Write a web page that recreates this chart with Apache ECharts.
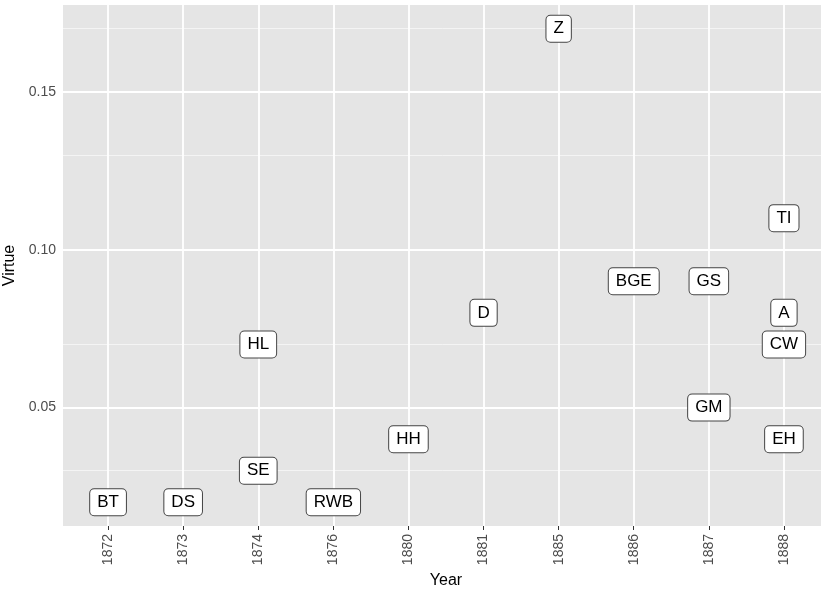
<!DOCTYPE html>
<html>
<head>
<meta charset="utf-8">
<script src="https://cdn.jsdelivr.net/npm/echarts@6/dist/echarts.min.js"></script>
<style>
  html, body { margin: 0; padding: 0; background: #fff; }
  #chart { width: 821px; height: 589px; }
</style>
</head>
<body>
<div id="chart"></div>
<script>
// discrete year categories on the x axis
var years = ['1872', '1873', '1874', '1876', '1880', '1881', '1885', '1886', '1887', '1888'];

// one label per book
var bookLabels = ['BT', 'DS', 'HL', 'SE', 'RWB', 'HH', 'D', 'Z', 'BGE', 'GS', 'GM', 'TI', 'A', 'CW', 'EH'];
var bookYears  = ['1872', '1873', '1874', '1874', '1876', '1880', '1881', '1885', '1886', '1887', '1887', '1888', '1888', '1888', '1888'];
var virtue     = [0.02, 0.02, 0.07, 0.03, 0.02, 0.04, 0.08, 0.17, 0.09, 0.09, 0.05, 0.11, 0.08, 0.07, 0.04];

// axis ticks
var yMajor = [0.05, 0.10, 0.15];
var yMinor = [0.025, 0.075, 0.125, 0.175];

var FONT = '"Liberation Sans", Arial, Helvetica, sans-serif';

var chart = echarts.init(document.getElementById('chart'));

var xIdx = years.map(function (y, i) { return i; });

var points = bookLabels.map(function (lab, i) {
	return { name: lab, value: [years.indexOf(bookYears[i]), virtue[i]] };
});

var gridLines = [];
yMinor.forEach(function (v) {
	gridLines.push({ yAxis: v, lineStyle: { color: '#f4f4f4', width: 1, type: 'solid' } });
});
yMajor.forEach(function (v) {
	gridLines.push({ yAxis: v, lineStyle: { color: '#ffffff', width: 1.8, type: 'solid' } });
});
xIdx.forEach(function (v) {
	gridLines.push({ xAxis: v, lineStyle: { color: '#ffffff', width: 1.8, type: 'solid' } });
});

chart.setOption({
	animation: false,
	textStyle: { fontFamily: FONT },
	grid: {
		left: 63,
		top: 5,
		width: 766,
		height: 521,
		containLabel: false,
		outerBoundsMode: 'none',
		show: true,
		backgroundColor: '#e5e5e5',
		borderWidth: 0
	},
	xAxis: {
		type: 'value',
		min: -0.6,
		max: 9.6,
		name: 'Year',
		nameLocation: 'middle',
		nameGap: 46,
		nameTextStyle: { fontSize: 16, color: '#000', fontFamily: FONT },
		axisLine: { show: false },
		splitLine: { show: false },
		axisTick: {
			show: true,
			customValues: xIdx,
			length: 4,
			lineStyle: { color: '#333', width: 1 }
		},
		axisLabel: {
			customValues: xIdx,
			rotate: 90,
			margin: 8,
			fontSize: 14,
			color: '#4d4d4d',
			fontFamily: FONT,
			formatter: function (v) { return years[Math.round(v)]; }
		}
	},
	yAxis: {
		type: 'value',
		min: 0.0125,
		max: 0.1775,
		name: 'Virtue',
		nameLocation: 'middle',
		nameGap: 41,
		nameTextStyle: { fontSize: 16, color: '#000', fontFamily: FONT },
		axisLine: { show: false },
		splitLine: { show: false },
		axisTick: {
			show: true,
			customValues: yMajor,
			length: 4,
			lineStyle: { color: '#333', width: 1 }
		},
		axisLabel: {
			customValues: yMajor,
			margin: 7,
			fontSize: 14,
			color: '#4d4d4d',
			fontFamily: FONT,
			formatter: function (v) { return v.toFixed(2); }
		}
	},
	series: [
		{
			type: 'line',
			data: [],
			silent: true,
			z: 1,
			markLine: {
				silent: true,
				symbol: ['none', 'none'],
				label: { show: false },
				emphasis: { disabled: true },
				data: gridLines
			}
		},
		{
			type: 'scatter',
			z: 5,
			symbolSize: 0,
			itemStyle: { opacity: 1 },
			data: points,
			label: {
				show: true,
				position: 'inside',
				formatter: '{b}',
				fontSize: 17,
				color: '#000',
				fontFamily: FONT,
				backgroundColor: '#ffffff',
				borderColor: '#444444',
				borderWidth: 1,
				borderRadius: 4,
				padding: [5, 7, 4, 7]
			}
		}
	]
});
</script>
</body>
</html>
